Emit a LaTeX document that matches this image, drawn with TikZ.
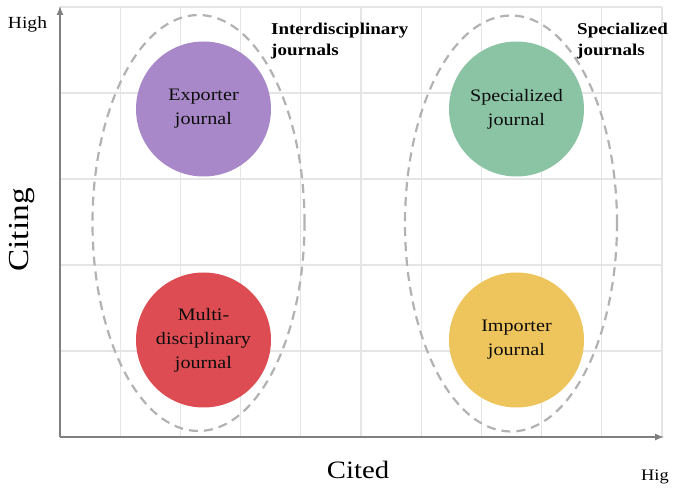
\documentclass[tikz,border=0pt]{standalone}
\usepackage{fontspec}
\setmainfont{Liberation Serif}[FakeStretch=1.15]
\usetikzlibrary{shapes.geometric}
\definecolor{exporter}{RGB}{168,136,200}
\definecolor{special}{RGB}{138,196,164}
\definecolor{multi}{RGB}{220,76,82}
\definecolor{importer}{RGB}{238,196,92}
\begin{document}
\begin{tikzpicture}[x=1pt,y=1pt]
		    \tikzstyle{journal}=[circle, inner sep=0pt, minimum size=135pt, align=center, text=black!95, font=\fontsize{17.5}{24}\selectfont]
		    \tikzstyle{group}=[ellipse, draw=black!30, line width=2.2pt, dash pattern=on 9pt off 6pt, minimum width=212pt, minimum height=416pt]
		    \tikzstyle{grouplabel}=[anchor=north west, align=left, inner sep=0pt, font=\fontsize{16.5}{21}\selectfont\bfseries]
		    \useasboundingbox (-60,-51) rectangle (613,437);

		    % grid and axes
		    \draw[black!10, line width=1.2pt, xstep=60.2, ystep=86] (0,0) grid (602,430);
		    \draw[black!50, line width=2pt, -latex] (0,0) -- (0,431) coordinate (ytop);
		    \draw[black!50, line width=2pt, -latex] (0,0) -- (604,0) coordinate (xend);

		    \node[journal, fill=exporter] (exp) at (143.5,328) {Exporter\\journal};
		    \node[journal, fill=special] (spec) at (456.5,328) {Specialized\\journal};
		    \node[journal, fill=multi] (mult) at (143.5,97) {Multi-\\disciplinary\\journal};
		    \node[journal, fill=importer] (imp) at (456.5,97) {Importer\\journal};

		    \node[group] (inter) at (138.5,214) {};
		    \node[group] (specgrp) at (451,213.5) {};
		    \node[grouplabel] (interlab) at (211,414) {Interdisciplinary\\journals};
		    \node[grouplabel] (speclab) at (517,414) {Specialized\\journals};

		    \node[anchor=base, font=\fontsize{17}{20}\selectfont] (yhigh) at (-32.5,408) {High};
		    \node[anchor=base west, inner sep=0pt, font=\fontsize{16}{20}\selectfont] (xhigh) at (581,-43) {Hig};
		    \node[rotate=90, font=\fontsize{29}{32}\selectfont] (citing) at (-38,207) {Citing};
		    \node[font=\fontsize{25}{30}\selectfont] (cited) at (298,-33) {Cited};
		    \end{tikzpicture}
\end{document}
